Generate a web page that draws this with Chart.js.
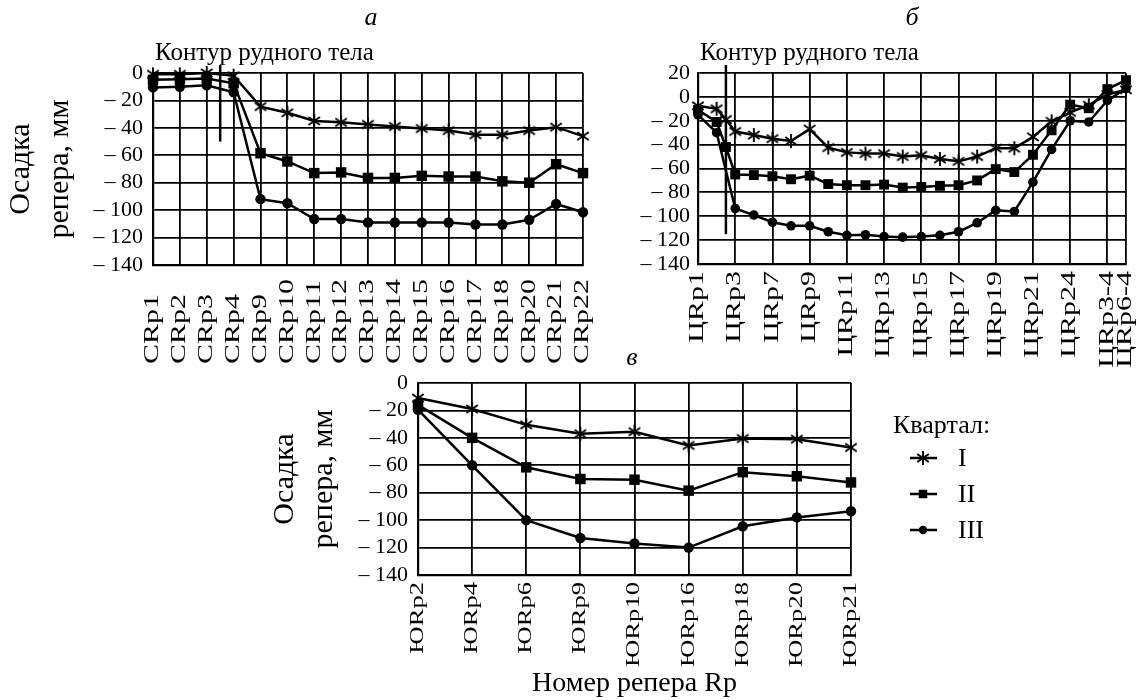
<!DOCTYPE html>
<html>
<head>
<meta charset="utf-8">
<script src="https://cdn.jsdelivr.net/npm/chart.js@4.4.1/dist/chart.umd.min.js"></script>
<style>
  html, body { margin: 0; padding: 0; background: #fff; }
  body { width: 1136px; height: 700px; position: relative; overflow: hidden; }
  canvas { position: absolute; }
  #ca { left: 0; top: 0; }
  #cb { left: 600px; top: 0; }
  #cc { left: 230px; top: 350px; }
</style>
</head>
<body>
<canvas id="ca" width="600" height="380"></canvas>
<canvas id="cb" width="536" height="380"></canvas>
<canvas id="cc" width="906" height="350"></canvas>
<script>
const FONT = '"Liberation Serif", "Times New Roman", serif';
Chart.defaults.font.family = FONT;
Chart.defaults.color = "#000";

const seriesNames = ["I", "II", "III"];
const legendTitle = "Квартал:";
const contourText = "Контур рудного тела";
const yTitle = ["Осадка", "репера, мм"];
const xTitle = "Номер репера Rp";

// panel а
const aLabels = ["CRp1", "CRp2", "CRp3", "CRp4", "CRp9", "CRp10", "CRp11", "CRp12", "CRp13",
  "CRp14", "CRp15", "CRp16", "CRp17", "CRp18", "CRp20", "CRp21", "CRp22"];
const aI = [-1, -1, 0, -2, -24.5, -29, -35, -36, -37.5, -39, -40.5, -42, -45, -45, -42, -39.5, -46];
const aII = [-5, -4.5, -4, -7.5, -58.5, -64.5, -73, -72.5, -76.5, -76.5, -75, -75.5, -75.5, -79, -80, -66.5, -73];
const aIII = [-10.5, -10, -9, -14, -92, -95, -106.5, -106.5, -109, -109, -109, -109, -110.5, -110.5, -107, -95.5, -101.5];
const aContour = [2.5, -50];

// panel б (positions along the profile, labels shown at every other benchmark)
const bPos = [0, 1, 1.5, 2, 3, 4, 5, 6, 7, 8, 9, 10, 11, 12, 13, 14, 15, 16, 17, 18, 19, 20, 21, 22, 23];
const bI = [-7.5, -10, -19, -29, -32, -35, -37, -27, -42.5, -46.5, -47.5, -47.5, -50, -49, -52, -54,
  -50, -43, -43, -33.5, -20.5, -13, -7, 2, 6];
const bII = [-11, -21, -42, -65, -65.5, -66.5, -69, -66, -73, -74, -74, -73.5, -76, -75.5, -74.5, -74,
  -70, -60.5, -63, -48.5, -28, -6.5, -9.5, 6.5, 14];
const bIII = [-15, -30, null, -93.5, -99, -105, -108, -108, -113, -116, -115.5, -117, -117.5, -117, -116, -113,
  -105.5, -95, -96, -71.5, -44, -20, -21, -3, 7];
const bTickPos = [0, 2, 4, 6, 8, 10, 12, 14, 16, 18, 20, 22, 23];
const bTickLabels = ["ЦRp1", "ЦRp3", "ЦRp7", "ЦRp9", "ЦRp11", "ЦRp13", "ЦRp15", "ЦRp17", "ЦRp19",
  "ЦRp21", "ЦRp24", "ЦRp3-4", "ЦRp6-4"];
const bContour = [1.5, -115];

// panel в
const cLabels = ["ЮRp2", "ЮRp4", "ЮRp6", "ЮRp9", "ЮRp10", "ЮRp16", "ЮRp18", "ЮRp20", "ЮRp21"];
const cI = [-11, -19, -30.5, -37, -35.5, -45.5, -40.5, -41, -47];
const cII = [-16, -40, -61.5, -70, -70.5, -78.5, -65, -68, -72.5];
const cIII = [-19.5, -60, -100, -113, -117, -120, -104.5, -98, -93.5];

// asterisk marker, the built-in 'star' has too many arms
function makeStar(r, w) {
  const s = Math.ceil(2 * r + w + 2);
  const c = document.createElement("canvas");
  c.width = s;
  c.height = s;
  const g = c.getContext("2d");
  g.strokeStyle = "#000";
  g.lineWidth = w;
  const m = s / 2;
  [90, 35, 145].forEach((d) => {
    const a = (d * Math.PI) / 180;
    g.beginPath();
    g.moveTo(m - r * Math.cos(a), m - r * Math.sin(a));
    g.lineTo(m + r * Math.cos(a), m + r * Math.sin(a));
    g.stroke();
  });
  return c;
}
const star = makeStar(7, 1.9);

function series(label, data, style, radius) {
  return {
    label,
    data,
    borderColor: "#000",
    backgroundColor: "#000",
    borderWidth: 2.5,
    pointStyle: style,
    pointRadius: radius,
    pointBackgroundColor: "#000",
    pointBorderColor: "#000",
    pointBorderWidth: 0,
    tension: 0,
    spanGaps: true,
    clip: false,
  };
}

const grid = { color: "#000", lineWidth: 1.8, drawTicks: false };
const border = { color: "#000", width: 2.2 };

function yAxis(min, max, width, pad, title) {
  return {
    min,
    max,
    ticks: {
      stepSize: 20,
      autoSkip: false,
      padding: pad,
      font: { size: 22 },
      color: "#000",
      callback: (v) => (v < 0 ? "\u2013 " + -v : String(v)),
    },
    grid,
    border,
    title: title
      ? { display: true, text: yTitle, color: "#000", font: { size: 30, lineHeight: 1.3 }, padding: { top: title, bottom: 0 } }
      : { display: false },
    afterFit: (s) => { s.width = width; },
  };
}

// rotated tick labels, contour marker, panel letter and legend
const extras = {
  id: "extras",
  afterDraw(chart, args, o) {
    const ctx = chart.ctx;
    const xs = chart.scales.x;
    const ys = chart.scales.y;
    const area = chart.chartArea;
    ctx.save();
    ctx.fillStyle = "#000";
    ctx.strokeStyle = "#000";

    ctx.font = o.labelSize + "px " + FONT;
    o.labels.forEach((t, i) => {
      ctx.save();
      ctx.translate(xs.getPixelForValue(o.labelPos ? o.labelPos[i] : i), o.labelY);
      ctx.rotate(-Math.PI / 2);
      ctx.scale(o.stretch, 1);
      ctx.textAlign = o.labelAlign;
      ctx.textBaseline = "middle";
      ctx.fillText(t, 0, 0);
      ctx.restore();
    });

    if (o.contour) {
      const cx = xs.getPixelForValue(o.contour[0]);
      ctx.lineWidth = 2.5;
      ctx.beginPath();
      ctx.moveTo(cx, area.top - 8);
      ctx.lineTo(cx, ys.getPixelForValue(o.contour[1]));
      ctx.stroke();
      ctx.font = "25px " + FONT;
      ctx.textAlign = "left";
      ctx.textBaseline = "alphabetic";
      ctx.fillText(contourText, area.left + 2, area.top - 13);
    }

    ctx.font = "italic 26px " + FONT;
    ctx.textAlign = "center";
    ctx.textBaseline = "alphabetic";
    ctx.fillText(o.tag[0], o.tag[1], o.tag[2]);

    if (o.legend) {
      const L = o.legend;
      ctx.font = "26px " + FONT;
      ctx.textAlign = "left";
      ctx.fillText(legendTitle, L.x, L.y);
      chart.data.datasets.forEach((ds, i) => {
        const yy = L.y + 25 + i * 36;
        ctx.lineWidth = 2.5;
        ctx.beginPath();
        ctx.moveTo(L.x + 17, yy);
        ctx.lineTo(L.x + 44, yy);
        ctx.stroke();
        Chart.helpers.drawPoint(ctx, { pointStyle: ds.pointStyle, radius: L.r[i], rotation: 0, borderWidth: 0 }, L.x + 30, yy);
        ctx.textBaseline = "middle";
        ctx.fillText(ds.label, L.x + 65, yy + 1);
        ctx.textBaseline = "alphabetic";
      });
    }
    ctx.restore();
  },
};

new Chart(document.getElementById("ca"), {
  type: "line",
  data: {
    labels: aLabels,
    datasets: [
      series(seriesNames[0], aI, star, 7),
      series(seriesNames[1], aII, "rect", 7.4),
      series(seriesNames[2], aIII, "circle", 5.2),
    ],
  },
  options: {
    responsive: false,
    animation: false,
    layout: { autoPadding: false, padding: { left: 0, top: 73, right: 17, bottom: 0 } },
    scales: {
      x: {
        type: "category",
        offset: false,
        ticks: { display: false },
        grid: { ...grid, offset: false },
        border,
        afterFit: (s) => { s.height = 115; },
      },
      y: yAxis(-140, 0, 153, 10, 2),
    },
    plugins: {
      legend: { display: false },
      tooltip: { enabled: false },
      extras: { labels: aLabels, labelY: 364, labelAlign: "left", labelSize: 20, stretch: 1.5, contour: aContour, tag: ["а", 371, 25] },
    },
  },
  plugins: [extras],
});

const toPoints = (ys) => bPos.map((x, i) => ({ x, y: ys[i] }));

new Chart(document.getElementById("cb"), {
  type: "line",
  data: {
    datasets: [
      series(seriesNames[0], toPoints(bI), star, 7),
      series(seriesNames[1], toPoints(bII), "rect", 7),
      series(seriesNames[2], toPoints(bIII), "circle", 4.8),
    ],
  },
  options: {
    responsive: false,
    animation: false,
    layout: { autoPadding: false, padding: { left: 0, top: 73, right: 10, bottom: 0 } },
    scales: {
      x: {
        type: "linear",
        min: bTickPos[0],
        max: bTickPos[bTickPos.length - 1],
        afterBuildTicks: (s) => { s.ticks = bTickPos.map((v) => ({ value: v })); },
        ticks: { display: false },
        grid,
        border,
        afterFit: (s) => { s.height = 116; },
      },
      y: yAxis(-140, 20, 98, 8, 0),
    },
    plugins: {
      legend: { display: false },
      tooltip: { enabled: false },
      extras: { labels: bTickLabels, labelPos: bTickPos, labelY: 271, labelAlign: "right", labelSize: 20, stretch: 1.5, contour: bContour, tag: ["б", 312, 25] },
    },
  },
  plugins: [extras],
});

new Chart(document.getElementById("cc"), {
  type: "line",
  data: {
    labels: cLabels,
    datasets: [
      series(seriesNames[0], cI, star, 7),
      series(seriesNames[1], cII, "rect", 7.4),
      series(seriesNames[2], cIII, "circle", 5.2),
    ],
  },
  options: {
    responsive: false,
    animation: false,
    layout: { autoPadding: false, padding: { left: 0, top: 33, right: 285, bottom: 0 } },
    scales: {
      x: {
        type: "category",
        offset: false,
        ticks: { display: false },
        grid: { ...grid, offset: false },
        border,
        title: { display: true, text: xTitle, color: "#000", font: { size: 28 }, padding: 0 },
        afterFit: (s) => { s.height = 125; },
      },
      y: yAxis(-140, 0, 188, 10, 36),
    },
    plugins: {
      legend: { display: false },
      tooltip: { enabled: false },
      extras: {
        labels: cLabels, labelY: 232, labelAlign: "right", labelSize: 19, stretch: 1.4, tag: ["в", 402, 15],
        legend: { x: 663, y: 83, r: [7, 6, 4.2] },
      },
    },
  },
  plugins: [extras],
});
</script>
</body>
</html>
